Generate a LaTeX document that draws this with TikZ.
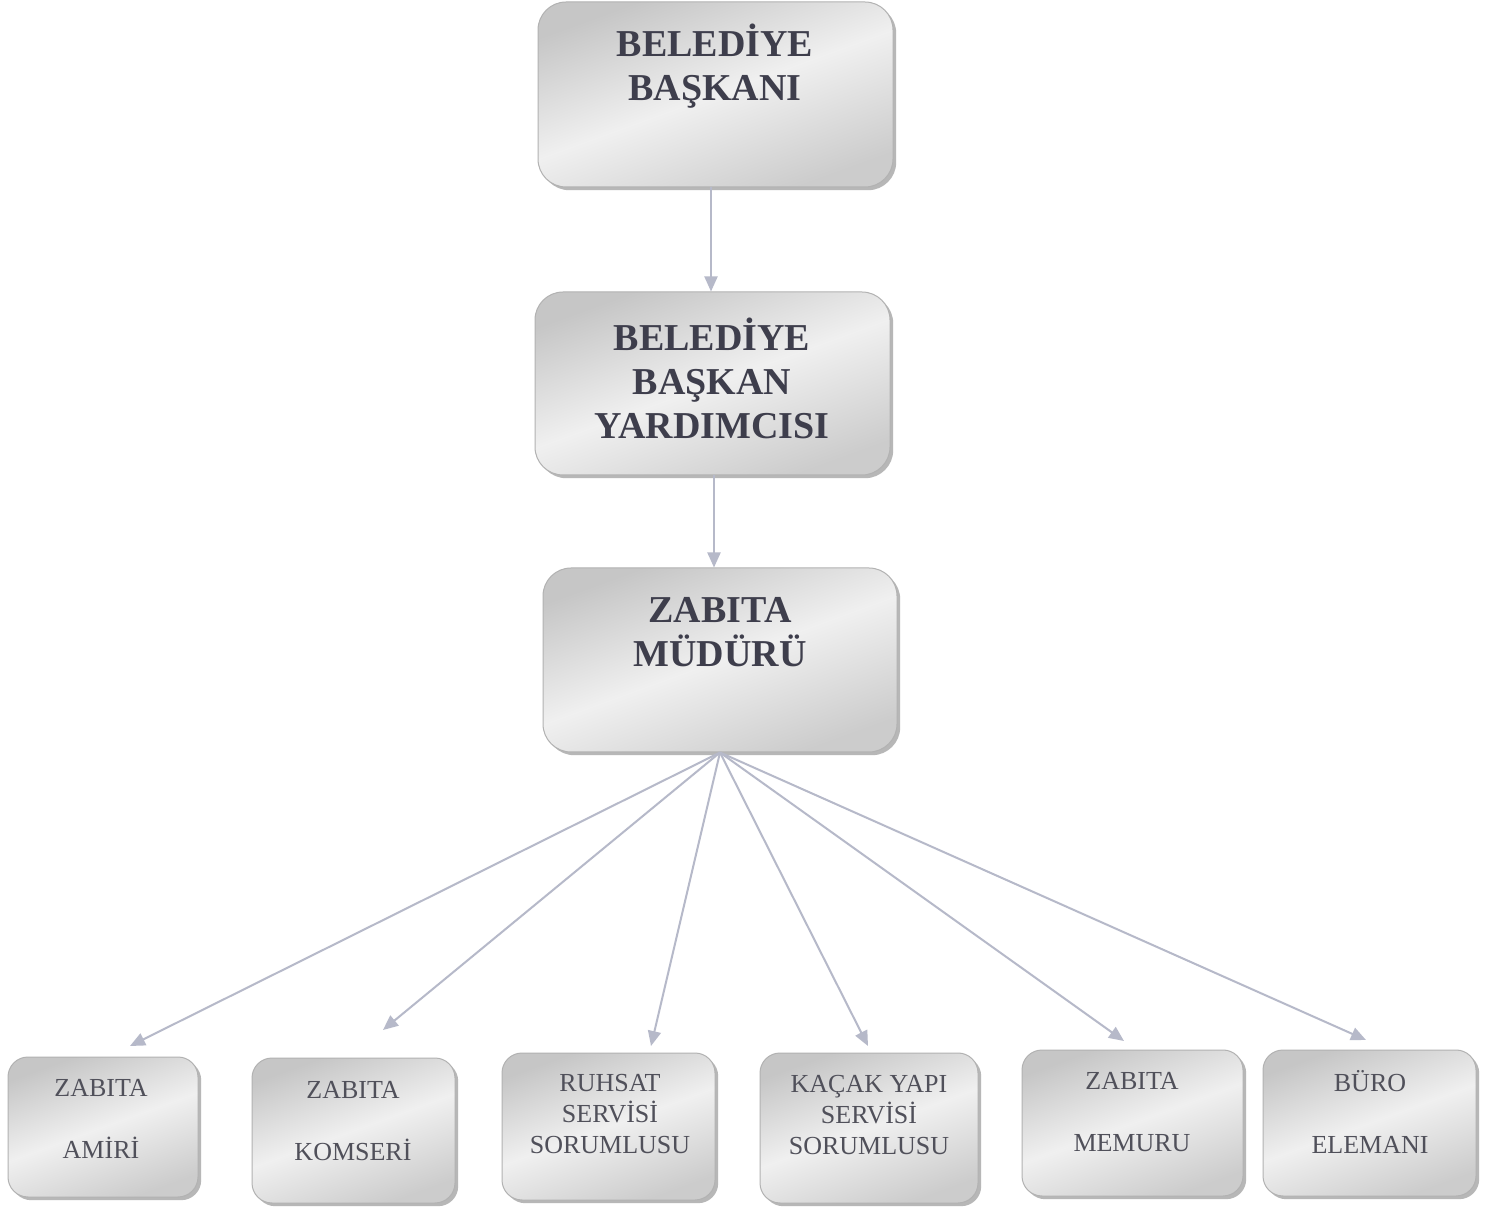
\documentclass[tikz,border=0pt]{standalone}
\usepackage{fontspec}
\setmainfont{Liberation Serif}
\usetikzlibrary{arrows.meta,shadows,calc}
\definecolor{txtdark}{HTML}{3E3E4C}
\definecolor{txtreg}{HTML}{50505A}
\definecolor{arrowc}{HTML}{B6B9C9}
\begin{document}
\begin{tikzpicture}[x=0.5pt,y=-0.5pt,
  boxbase/.style={draw=gray!60, line width=0.5pt, shading=axis, left color=gray!45, right color=gray!40, middle color=gray!12, shading angle=20,
    drop shadow={shadow xshift=1.6pt, shadow yshift=-1.6pt, fill=gray!70, opacity=0.8}},
  bigbox/.style={boxbase, rounded corners=14pt},
  smallbox/.style={boxbase, rounded corners=10pt},
  bigtxt/.style={font=\fontsize{19}{22}\selectfont\bfseries, text=txtdark, align=center},
  smalltxt/.style={font=\fontsize{13}{15.5}\selectfont, text=txtreg, align=center},
  conn/.style={draw=arrowc, line width=1pt, -{Triangle[length=7.5pt,width=6.5pt]}}
]
\useasboundingbox[fill=white] (0,0) rectangle (1496,1208);

% boxes
\node[bigbox, minimum width=177.5pt, minimum height=92.5pt] (top) at (715.5,94.5) {};
\node[bigbox, minimum width=177.5pt, minimum height=91.5pt] (mid) at (712.5,383.5) {};
\node[bigbox, minimum width=177pt, minimum height=92pt] (zm) at (720,660) {};
\node[smallbox, minimum width=95pt, minimum height=70pt] (b1) at (103,1127) {};
\node[smallbox, minimum width=101.5pt, minimum height=72.5pt] (b2) at (353.5,1130.5) {};
\node[smallbox, minimum width=106.5pt, minimum height=73.5pt] (b3) at (608.5,1126.5) {};
\node[smallbox, minimum width=109pt, minimum height=75pt] (b4) at (869,1128) {};
\node[smallbox, minimum width=110.5pt, minimum height=73pt] (b5) at (1132.5,1123) {};
\node[smallbox, minimum width=106.5pt, minimum height=73pt] (b6) at (1369.5,1123) {};

% texts
\node[bigtxt] (ttop) at (715,66) {BELEDİYE\\BAŞKANI};
\node[bigtxt] (tmid) at (712,378) {BELEDİYE\\BAŞKAN\\YARDIMCISI};
\node[bigtxt] (tzm) at (720,632) {ZABITA\\MÜDÜRÜ};
\node[smalltxt] (tb1) at (101,1119) {ZABITA\\[15.5pt]AMİRİ};
\node[smalltxt] (tb2) at (353,1121) {ZABITA\\[15.5pt]KOMSERİ};
\node[smalltxt] (tb3) at (610,1114) {RUHSAT\\SERVİSİ\\SORUMLUSU};
\node[smalltxt] (tb4) at (869,1115) {KAÇAK YAPI\\SERVİSİ\\SORUMLUSU};
\node[smalltxt] (tb5) at (1132,1112) {ZABITA\\[15.5pt]MEMURU};
\node[smalltxt] (tb6) at (1370,1112) {BÜRO\\[15.5pt]ELEMANI};

% arrow end points
\coordinate (a1) at (130,1046);
\coordinate (a2) at (383,1030);
\coordinate (a3) at (651,1046);
\coordinate (a4) at (868,1046);
\coordinate (a5) at (1124,1041);
\coordinate (a6) at (1366,1040);

% connectors
\draw[conn] (top.south -| 711,0) -- (mid.north -| 711,0);
\draw[conn] (mid.south -| 714,0) -- (zm.north -| 714,0);
\foreach \e in {a1,a2,a3,a4,a5,a6}
  \draw[conn] (zm.south) -- (\e);
\end{tikzpicture}
\end{document}
